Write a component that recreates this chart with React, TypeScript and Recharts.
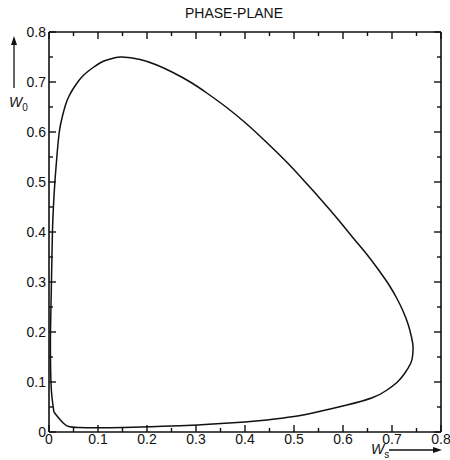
import { LineChart, XAxis, YAxis, Line } from 'recharts'

const wsValues = [
  0.010, 0.006, 0.004, 0.003, 0.003, 0.004, 0.005, 0.006, 0.007, 0.009,
  0.012, 0.016, 0.021, 0.027, 0.034, 0.041, 0.049, 0.058, 0.067, 0.078,
  0.090, 0.104, 0.118, 0.133, 0.149, 0.186, 0.220, 0.253, 0.290, 0.322,
  0.360, 0.400, 0.440, 0.486, 0.520, 0.553, 0.590, 0.620, 0.648, 0.672,
  0.694, 0.710, 0.722, 0.733, 0.740, 0.743, 0.742, 0.738, 0.725, 0.710,
  0.690, 0.661, 0.608, 0.547, 0.500, 0.445, 0.400, 0.343, 0.280, 0.206,
  0.150, 0.100, 0.060, 0.040, 0.029, 0.018, 0.010,
]
const w0Values = [
  0.040, 0.070, 0.100, 0.150, 0.200, 0.250, 0.300, 0.350, 0.400, 0.450,
  0.500, 0.550, 0.600, 0.630, 0.655, 0.672, 0.686, 0.699, 0.710, 0.720,
  0.729, 0.738, 0.744, 0.748, 0.750, 0.745, 0.734, 0.719, 0.699, 0.678,
  0.651, 0.619, 0.583, 0.539, 0.503, 0.467, 0.425, 0.389, 0.356, 0.325,
  0.294, 0.267, 0.243, 0.215, 0.189, 0.170, 0.152, 0.137, 0.116, 0.099,
  0.084, 0.069, 0.054, 0.040, 0.031, 0.024, 0.020, 0.0165, 0.013, 0.0105,
  0.009, 0.0085, 0.009, 0.011, 0.018, 0.030, 0.040,
]

const axisTicks = [
  0, 0.05, 0.1, 0.15, 0.2, 0.25, 0.3, 0.35, 0.4,
  0.45, 0.5, 0.55, 0.6, 0.65, 0.7, 0.75, 0.8,
]
const tickLabels = ['0', '0.1', '0.2', '0.3', '0.4', '0.5', '0.6', '0.7', '0.8']

const data = wsValues.map((ws, i) => ({ ws, w0: w0Values[i] }))

const FONT = '"Liberation Sans", Arial, sans-serif'
const INK = '#111'

const majorIndex = (v: number) => {
  const k = Math.round(v * 10)
  return Math.abs(v * 10 - k) < 1e-6 ? k : -1
}

// ticks point into the plot on every side; labels only on bottom/left
const makeTick = (side: 'bottom' | 'top' | 'left' | 'right') => (props: any) => {
  const { x, y, payload } = props
  const k = majorIndex(payload.value)
  const len = k >= 0 ? 7 : 4
  let x2 = x
  let y2 = y
  if (side === 'bottom') y2 = y - len
  if (side === 'top') y2 = y + len
  if (side === 'left') x2 = x + len
  if (side === 'right') x2 = x - len
  return (
    <g>
      <line x1={x} y1={y} x2={x2} y2={y2} stroke={INK} strokeWidth={1.4} />
      {k >= 0 && side === 'bottom' && (
        <text x={x} y={y + 12} textAnchor="middle" fontSize={14} fontFamily={FONT} fill={INK}>
          {tickLabels[k]}
        </text>
      )}
      {k >= 0 && side === 'left' && (
        <text x={x - 3} y={y + 5} textAnchor="end" fontSize={14} fontFamily={FONT} fill={INK}>
          {tickLabels[k]}
        </text>
      )}
    </g>
  )
}

const YLabel = (props: any) => {
  const vx = props.viewBox?.x ?? 0
  const vy = props.viewBox?.y ?? 32
  const ax = vx + 14
  return (
    <g>
      <line x1={ax} y1={vy + 8} x2={ax} y2={vy + 56} stroke={INK} strokeWidth={1.3} />
      <polygon points={`${ax},${vy + 4} ${ax - 3},${vy + 13} ${ax + 3},${vy + 13}`} fill={INK} />
      <text x={vx + 9} y={vy + 75} fontSize={14} fontFamily={FONT} fontStyle="italic" fill={INK}>
        W
        <tspan dy={4} fontSize={10} fontStyle="normal">0</tspan>
      </text>
    </g>
  )
}

const XLabel = (props: any) => {
  const vy = props.viewBox?.y ?? 432
  const ly = vy + 18
  return (
    <g>
      <text x={371} y={ly + 4} fontSize={14} fontFamily={FONT} fontStyle="italic" fill={INK}>
        W
        <tspan dy={4} fontSize={10} fontStyle="normal">s</tspan>
      </text>
      <line x1={389} y1={ly} x2={434} y2={ly} stroke={INK} strokeWidth={1.3} />
      <polygon points={`${442},${ly} ${433},${ly - 3} ${433},${ly + 3}`} fill={INK} />
    </g>
  )
}

export default function App() {
  return (
    <div style={{ position: 'absolute', left: 0, top: 0, width: 450, height: 460, background: '#fff' }}>
      <div
        style={{
          position: 'absolute',
          left: 185,
          top: 5,
          fontFamily: FONT,
          fontSize: 14,
          color: INK,
        }}
      >
        PHASE-PLANE
      </div>
      <LineChart width={450} height={460} data={data} margin={{ top: 31, right: 0, bottom: 0, left: 0 }}>
        <XAxis
          dataKey="ws"
          type="number"
          domain={[0, 0.8]}
          ticks={axisTicks}
          interval={0}
          height={28}
          tickSize={0}
          tickMargin={0}
          tickLine={false}
          axisLine={{ stroke: INK, strokeWidth: 1.6 }}
          tick={makeTick('bottom')}
          label={XLabel}
        />
        <XAxis
          xAxisId="top"
          orientation="top"
          dataKey="ws"
          type="number"
          domain={[0, 0.8]}
          ticks={axisTicks}
          interval={0}
          height={1}
          tickSize={0}
          tickMargin={0}
          tickLine={false}
          axisLine={{ stroke: INK, strokeWidth: 1.6 }}
          tick={makeTick('top')}
        />
        <YAxis
          type="number"
          domain={[0, 0.8]}
          ticks={axisTicks}
          interval={0}
          width={49}
          tickSize={0}
          tickMargin={0}
          tickLine={false}
          axisLine={{ stroke: INK, strokeWidth: 1.6 }}
          tick={makeTick('left')}
          label={YLabel}
        />
        <YAxis
          yAxisId="right"
          orientation="right"
          type="number"
          domain={[0, 0.8]}
          ticks={axisTicks}
          interval={0}
          width={9}
          tickSize={0}
          tickMargin={0}
          tickLine={false}
          axisLine={{ stroke: INK, strokeWidth: 1.6 }}
          tick={makeTick('right')}
        />
        <Line
          dataKey="w0"
          type="natural"
          stroke={INK}
          strokeWidth={1.5}
          dot={false}
          activeDot={false}
          isAnimationActive={false}
        />
        <Line
          xAxisId="top"
          yAxisId="right"
          dataKey="w0"
          stroke="none"
          dot={false}
          activeDot={false}
          isAnimationActive={false}
        />
      </LineChart>
    </div>
  )
}
